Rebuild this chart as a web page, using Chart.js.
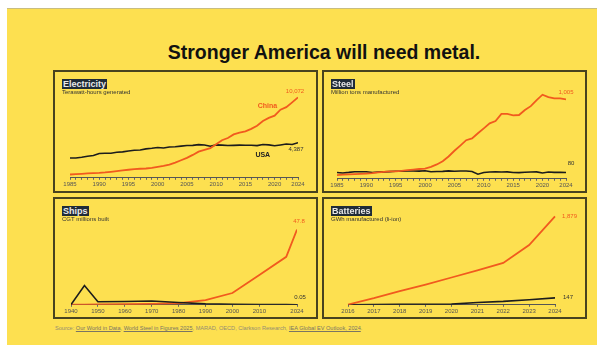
<!DOCTYPE html>
<html>
<head>
<meta charset="utf-8">
<script src="https://cdn.jsdelivr.net/npm/chart.js@4.4.1/dist/chart.umd.min.js"></script>
<style>
  html, body { margin: 0; padding: 0; background: #fff; }
  body { width: 597px; height: 345px; position: relative; overflow: hidden;
         font-family: "Liberation Sans", Arial, sans-serif; }
  #sheet { position: absolute; left: 7px; top: 8px; right: 0; bottom: 0;
           background: #fde050; border-top: 1px solid #c8bd80; }
  h1 { position: absolute; left: 0; top: 41px; width: 648px; margin: 0;
       text-align: center; font-size: 19.5px; line-height: 22px; font-weight: bold; color: #111; }
  .panel { position: absolute; box-sizing: border-box; border: 2px solid #48431f; }
  canvas { position: absolute; }
  .tag { position: absolute; background: #1f2b38; color: #e8e8e8; font-weight: bold;
         font-size: 9px; line-height: 10px; padding: 0 1px; }
  .sub { position: absolute; font-size: 6px; line-height: 7px; color: #333; }
  #source { position: absolute; left: 55px; top: 325px; font-size: 5.6px; line-height: 6px; color: #948d72; }
  #source u { color: #7a7564; }
</style>
</head>
<body>
<div id="sheet"></div>
<h1>Stronger America will need metal.</h1>

<div class="panel" style="left:53px;top:70px;width:265px;height:123px"></div>
<div class="panel" style="left:322px;top:70px;width:265px;height:123px"></div>
<div class="panel" style="left:53px;top:197px;width:265px;height:122px"></div>
<div class="panel" style="left:322px;top:197px;width:265px;height:122px"></div>

<canvas id="elec" width="261" height="119" style="left:55px;top:72px"></canvas>
<canvas id="steel" width="261" height="119" style="left:324px;top:72px"></canvas>
<canvas id="ships" width="261" height="118" style="left:55px;top:199px"></canvas>
<canvas id="batt" width="261" height="118" style="left:324px;top:199px"></canvas>

<div class="tag" style="left:62px;top:79px">Electricity</div>
<div class="sub" style="left:62px;top:89px">Terawatt-hours generated</div>
<div class="tag" style="left:331px;top:79px">Steel</div>
<div class="sub" style="left:331px;top:89px">Million tons manufactured</div>
<div class="tag" style="left:62px;top:206px">Ships</div>
<div class="sub" style="left:62px;top:216px">CGT millions built</div>
<div class="tag" style="left:331px;top:206px">Batteries</div>
<div class="sub" style="left:331px;top:216px">GWh manufactured (li-ion)</div>

<div id="source">Source: <u>Our World in Data</u>, <u>World Steel in Figures 2025</u>, MARAD, OECD, Clarkson Research, <u>IEA Global EV Outlook, 2024</u>.</div>

<script>
const ORANGE = '#f15a1e';
const DARK = '#1c1c1c';

// electricity, TWh
const elecYears = [1985, 1986, 1987, 1988, 1989, 1990, 1991, 1992, 1993, 1994, 1995, 1996, 1997, 1998, 1999,
  2000, 2001, 2002, 2003, 2004, 2005, 2006, 2007, 2008, 2009, 2010, 2011, 2012, 2013, 2014,
  2015, 2016, 2017, 2018, 2019, 2020, 2021, 2022, 2023, 2024];
const elecChina = [411, 450, 497, 545, 584, 621, 678, 754, 840, 928, 1007, 1081, 1134, 1167, 1239,
  1356, 1480, 1654, 1911, 2200, 2500, 2866, 3282, 3496, 3714, 4207, 4713, 4987, 5432, 5650,
  5810, 6133, 6529, 7112, 7503, 7779, 8534, 8849, 9456, 10072];
const elecUSA = [2473, 2487, 2572, 2704, 2784, 3038, 3073, 3084, 3197, 3254, 3353, 3444, 3492, 3620, 3695,
  3802, 3737, 3858, 3883, 3971, 4055, 4065, 4157, 4119, 3950, 4125, 4100, 4048, 4066, 4094,
  4078, 4077, 4034, 4178, 4128, 4009, 4116, 4230, 4178, 4387];

// crude steel, million tons
const steelChina = [47, 52, 56, 59, 62, 66, 71, 81, 89, 93, 95, 101, 109, 116, 124,
  129, 152, 182, 222, 283, 355, 421, 489, 512, 577, 639, 702, 731, 822, 822,
  804, 808, 871, 920, 996, 1065, 1035, 1018, 1019, 1005];
const steelUSA = [80, 74, 81, 90, 89, 90, 80, 84, 88, 91, 95, 95, 98, 98, 97,
  102, 90, 92, 94, 100, 95, 99, 98, 92, 58, 80, 86, 89, 87, 88,
  79, 78, 82, 87, 88, 73, 86, 81, 82, 80];

const yearTicks = elecYears;
const yearLabels = [1985, 1990, 1995, 2000, 2005, 2010, 2015, 2020, 2024];

// ships, CGT millions
const shipYears = [1940, 1945, 1950, 1960, 1970, 1980, 1990, 2000, 2010, 2020, 2024];
const shipChina = [0.1, 0.1, 0.2, 0.4, 0.6, 1.0, 3.0, 7.5, 19.0, 30.5, 47.8];
const shipUSA = [0.1, 12.3, 1.9, 2.1, 2.4, 1.5, 0.6, 0.3, 0.2, 0.1, 0.05];
const shipTicks = [1940, 1950, 1960, 1970, 1980, 1990, 2000, 2010, 2024];

// li-ion batteries, GWh
const battYears = ['2016', '2017', '2018', '2019', '2020', '2021', '2022', '2023', '2024'];
const battChina = [5, 140, 290, 430, 580, 730, 890, 1270, 1879];
const battUSA = [2, 5, 10, 12, 15, 50, 72, 108, 147];

const fmt = v => v.toLocaleString('en-US');
const pairs = (xs, ys) => ys.map((y, i) => ({ x: xs[i], y }));

// value at the end of each line, plus optional series names
const lineLabels = {
  id: 'lineLabels',
  afterDatasetsDraw(chart) {
    const ctx = chart.ctx;
    ctx.save();
    ctx.textBaseline = 'middle';
    chart.data.datasets.forEach((ds, i) => {
      const pts = chart.getDatasetMeta(i).data;
      const raw = ds.data[ds.data.length - 1];
      const last = typeof raw === 'object' ? raw.y : raw;
      if (ds.endLabel) {
        const p = pts[pts.length - 1];
        ctx.font = '6px "Liberation Sans", Arial, sans-serif';
        ctx.fillStyle = ds.borderColor === ORANGE ? ORANGE : '#333';
        ctx.textAlign = ds.endLabel.align || 'center';
        ctx.fillText(fmt(last), p.x + ds.endLabel.dx, p.y + ds.endLabel.dy);
      }
      if (ds.nameLabel) {
        const p = pts[ds.nameLabel.index];
        ctx.font = 'bold 7px "Liberation Sans", Arial, sans-serif';
        ctx.fillStyle = ds.borderColor === ORANGE ? ORANGE : '#222';
        ctx.textAlign = 'center';
        ctx.fillText(ds.label, p.x + ds.nameLabel.dx, p.y + ds.nameLabel.dy);
      }
    });
    ctx.restore();
  }
};

function line(label, data, color, extra) {
  return Object.assign({
    label, data, borderColor: color, borderWidth: color === ORANGE ? 1.8 : 1.6,
    pointRadius: 0, tension: 0, fill: false
  }, extra);
}

function xAxis(base, ticks, labels) {
  const tickOpts = {
    autoSkip: false, maxRotation: 0, padding: 1, color: '#555',
    font: { size: 6, family: '"Liberation Sans", Arial, sans-serif' }
  };
  if (labels) tickOpts.callback = v => labels.includes(v) ? String(v) : '';
  const axis = Object.assign({
    ticks: tickOpts,
    grid: { drawOnChartArea: false, drawTicks: true, tickLength: 2, color: '#666' },
    border: { color: '#555', width: 1 }
  }, base);
  if (ticks) axis.afterBuildTicks = s => { s.ticks = ticks.map(v => ({ value: v })); };
  return axis;
}

function panel(id, datasets, x, yMax, padding, labels) {
  return new Chart(document.getElementById(id), {
    type: 'line',
    data: { labels, datasets },
    options: {
      responsive: false, animation: false,
      layout: { padding },
      plugins: { legend: { display: false }, tooltip: { enabled: false } },
      scales: { x, y: { display: false, min: 0, max: yMax } }
    },
    plugins: [lineLabels]
  });
}

panel('elec', [
  line('China', pairs(elecYears, elecChina), ORANGE,
    { endLabel: { dx: -3, dy: -6 }, nameLabel: { index: 30, dx: 22, dy: -25 } }),
  line('USA', pairs(elecYears, elecUSA), DARK,
    { endLabel: { dx: -2, dy: 7 }, nameLabel: { index: 34, dx: -6, dy: 10 } })
], xAxis({ type: 'linear', min: 1985, max: 2024 }, yearTicks, yearLabels), 10500,
  { left: 15, right: 18, top: 22, bottom: 2 });

panel('steel', [
  line('China', pairs(elecYears, steelChina), ORANGE, { endLabel: { dx: 0, dy: -7 } }),
  line('USA', pairs(elecYears, steelUSA), DARK, { endLabel: { dx: 5, dy: -9 } })
], xAxis({ type: 'linear', min: 1985, max: 2024 }, yearTicks, yearLabels), 1150,
  { left: 13, right: 19, top: 16, bottom: 1 });

panel('ships', [
  line('USA', pairs(shipYears, shipUSA), DARK, { endLabel: { dx: 3, dy: -7 } }),
  line('China', pairs(shipYears, shipChina), ORANGE, { endLabel: { dx: 2, dy: -8 } })
], xAxis({ type: 'linear', min: 1940, max: 2024 }, shipTicks, shipTicks), 52,
  { left: 16, right: 19, top: 24, bottom: 1 });

panel('batt', [
  line('China', battChina, ORANGE, { endLabel: { dx: 7, dy: 0, align: 'left' } }),
  line('USA', battUSA, DARK, { endLabel: { dx: 8, dy: -1, align: 'left' } })
], xAxis({ type: 'category', offset: false }), 1950,
  { left: 24, right: 30, top: 14, bottom: 1 }, battYears);
</script>
</body>
</html>
